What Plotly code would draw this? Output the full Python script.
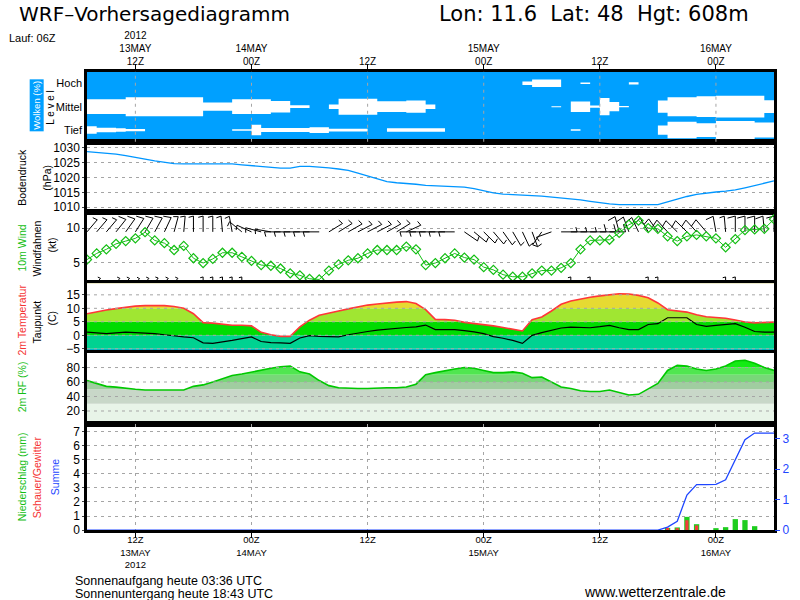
import math
import plotly.graph_objects as go

# ---------------- data (hours since 13 May 2012 00Z) ----------------
hours = list(range(7, 79))

pressure = [1028.6, 1028.4, 1028.1, 1027.8, 1027.3, 1026.8, 1026.1, 1025.5, 1025.0, 1024.6,
            1024.5, 1024.5, 1024.5, 1024.5, 1024.5, 1024.5, 1024.2, 1023.9, 1023.7, 1023.2,
            1023.1, 1023.1, 1023.7, 1023.7, 1023.5, 1023.2, 1022.8, 1022.3, 1021.4, 1020.5,
            1019.5, 1018.6, 1018.2, 1018.0, 1017.7, 1017.3, 1017.2, 1017.0, 1016.8, 1016.7,
            1016.2, 1015.5, 1014.8, 1014.4, 1014.3, 1014.1, 1013.9, 1013.7, 1013.4, 1013.2,
            1013.0, 1012.5, 1012.0, 1011.5, 1011.1, 1010.9, 1010.9, 1010.9, 1010.9, 1010.9,
            1011.8, 1012.8, 1013.6, 1014.3, 1014.8, 1015.1, 1015.4, 1015.8, 1016.5, 1017.2,
            1018.0, 1018.8]

wind_speed = [5.4, 6.3, 6.9, 7.7, 8.1, 8.5, 9.4, 8.2, 7.8, 6.8,
              7.4, 5.6, 4.9, 5.5, 6.4, 6.4, 5.8, 5.2, 4.6, 4.5,
              4.1, 3.4, 3.1, 2.6, 2.5, 3.8, 4.7, 5.3, 5.6, 6.3,
              6.8, 6.8, 6.8, 7.3, 6.9, 4.6, 4.9, 5.6, 6.3, 5.7,
              5.4, 4.3, 3.9, 3.2, 2.9, 2.9, 3.4, 3.8, 3.8, 4.2,
              4.9, 6.9, 8.2, 8.2, 8.3, 9.3, 10.5, 11.1, 10.0, 9.9,
              8.8, 8.1, 8.8, 9.0, 8.8, 8.5, 7.2, 8.4, 9.7, 9.8,
              9.9, 11.3]

wind_dir = [40, 40, 40, 38, 35, 32, 30, 28, 25, 15,
            5, 0, 0, 0, 355, 350, 310, 295, 285, 280,
            270, 270, 270, 270, 270, 58, 58, 60, 62, 62,
            62, 60, 58, 65, 270, 270, 270, 270, 270, 125,
            130, 135, 140, 145, 150, 155, 160, 215, 250, 90,
            90, 90, 90, 90, 90, 345, 340, 335, 330, 325,
            318, 315, 315, 318, 320, 350, 355, 0, 0, 0,
            355, 0]

low_wind_hours = [8, 10, 11, 12, 13, 14, 15, 16, 19, 20, 21, 22, 23, 57, 59, 65, 66, 73, 74]
low_wind_dir = [40, 40, 40, 45, 40, 35, 40, 40, 0, 0, 0, 0, 0, 0, 0, 0, 0, 0, 0]
low_wind_speed = [3, 3, 3, 3, 3, 3, 3, 3, 6, 6, 6, 6, 6, 3, 3, 6, 3, 5, 5]

temp = [8.0, 8.8, 9.4, 9.9, 10.4, 10.8, 11.0, 11.1, 11.0, 10.7,
        10.0, 8.0, 4.7, 4.5, 4.0, 3.7, 3.7, 3.5, 1.1, 0.2,
        -0.4, -0.4, 3.1, 5.6, 7.4, 8.3, 9.0, 9.8, 10.5, 11.2,
        11.6, 12.0, 12.3, 12.5, 11.8, 9.5, 5.9, 5.8, 5.6, 4.8,
        4.4, 4.1, 3.5, 2.9, 2.2, 1.6, 5.8, 6.8, 9.0, 11.5,
        12.7, 13.5, 14.1, 14.6, 15.0, 15.4, 15.3, 14.8, 13.9, 12.0,
        9.5, 9.0, 8.6, 7.6, 6.9, 6.6, 6.3, 5.7, 4.9, 4.6,
        4.7, 4.9]

dewpoint = [1.2, 0.9, 0.6, 0.9, 1.2, 1.0, 0.9, 0.6, 0.2, -0.3,
            -0.6, -0.9, -2.8, -3.0, -2.5, -1.9, -1.2, -0.6, -2.3, -2.7,
            -2.8, -3.0, -1.0, -0.1, -0.4, -0.5, -0.6, 0.2, 0.9, 1.4,
            1.9, 2.3, 2.7, 2.9, 3.1, 3.8, 2.1, 2.1, 2.1, 1.7,
            1.3, 0.6, -0.5, -1.1, -1.9, -3.0, 0.0, 1.0, 1.9, 2.7,
            3.0, 2.9, 2.8, 3.2, 3.7, 2.8, 2.1, 2.1, 4.0, 4.3,
            6.5, 6.5, 6.5, 4.0, 3.3, 3.7, 4.0, 4.3, 3.0, 1.4,
            1.2, 1.2]

rel_hum = [62, 58, 54, 53, 51, 50, 49, 49, 49, 49,
           49, 54, 56, 60, 64, 69, 71, 74, 76, 79,
           81, 82, 74, 71, 62, 55, 52, 51, 51, 51,
           52, 52, 52, 53, 57, 70, 73, 76, 78, 80,
           79, 76, 73, 73, 74, 72, 66, 67, 60, 53,
           51, 48, 47, 47, 49, 45, 42, 43, 50, 58,
           76, 83, 82, 78, 76, 78, 82, 89, 90, 86,
           80, 76]

cloud_low = [33, 20, 20, 15, 10, 10, 0, 0, 0, 0,
             0, 0, 0, 0, 0, 7, 7, 46, 17, 17,
             17, 17, 17, 25, 25, 12, 12, 12, 12, 0,
             0, 15, 15, 15, 15, 15, 15, 0, 0, 0,
             0, 0, 0, 0, 0, 0, 0, 0, 0, 0,
             7, 0, 0, 0, 0, 0, 0, 0, 0, 40,
             72, 72, 72, 60, 60, 80, 80, 80, 80, 65,
             65, 65]

cloud_mid = [65, 65, 65, 65, 83, 83, 83, 83, 83, 83,
             83, 83, 36, 36, 36, 65, 65, 65, 65, 50,
             50, 12, 12, 0, 0, 20, 70, 70, 70, 70,
             47, 47, 47, 54, 54, 20, 0, 0, 0, 0,
             0, 0, 0, 0, 0, 0, 0, 0, 4, 0,
             46, 46, 10, 75, 40, 5, 0, 0, 0, 54,
             83, 83, 83, 90, 90, 95, 95, 95, 95, 95,
             55, 50]

cloud_high = [0, 0, 0, 0, 0, 0, 0, 0, 0, 0,
              0, 0, 0, 0, 0, 0, 0, 0, 0, 0,
              0, 0, 0, 0, 0, 0, 0, 0, 0, 0,
              0, 0, 0, 0, 0, 0, 0, 0, 0, 0,
              0, 0, 0, 0, 0, 15, 33, 33, 33, 0,
              0, 7, 0, 0, 0, 0, 10, 0, 0, 0,
              0, 0, 0, 0, 0, 0, 0, 0, 0, 0,
              0, 0]

precip_hours = [67, 68, 69, 70, 72, 73, 74, 75, 76]
precip_total = [0.16, 0.19, 0.94, 0.42, 0.14, 0.21, 0.78, 0.71, 0.28]
precip_conv = [0.16, 0.14, 0.70, 0.33, 0.0, 0.0, 0.0, 0.0, 0.0]

precip_sum = [0, 0, 0, 0, 0, 0, 0, 0, 0, 0,
              0, 0, 0, 0, 0, 0, 0, 0, 0, 0,
              0, 0, 0, 0, 0, 0, 0, 0, 0, 0,
              0, 0, 0, 0, 0, 0, 0, 0, 0, 0,
              0, 0, 0, 0, 0, 0, 0, 0, 0, 0,
              0, 0, 0, 0, 0, 0, 0, 0, 0, 0,
              0.1, 0.29, 1.15, 1.49, 1.49, 1.5, 1.65, 2.3, 2.96, 3.18,
              3.18, 3.18]

time_ticks = [12, 24, 36, 48, 60, 72]
top_labels = ["2012<br>13MAY<br>12Z", "14MAY<br>00Z", "12Z", "15MAY<br>00Z", "12Z", "16MAY<br>00Z"]
bottom_labels = ["12Z<br>13MAY<br>2012", "00Z<br>14MAY", "12Z", "00Z<br>15MAY", "12Z", "00Z<br>16MAY"]
cloud_levels = [0.5, 1.5, 2.5]
cloud_level_names = ["Tief", "Mittel", "Hoch"]
p_ticks = [1010, 1015, 1020, 1025, 1030]
w_ticks = [5, 10]
t_ticks = [-5, 0, 5, 10, 15]
rh_ticks = [20, 40, 60, 80]
pr_ticks = [0, 1, 2, 3, 4, 5, 6, 7]
sum_ticks = [0, 1, 2, 3]

t_band_edges = [-10, -5, 0, 5, 10, 30]
t_band_colors = ["rgb(0,180,200)", "rgb(0,210,145)", "rgb(0,220,0)", "rgb(160,230,50)", "rgb(230,218,50)"]
rh_band_edges = [0, 30, 50, 60, 70, 80, 90, 100]
rh_band_colors = ["rgb(232,244,232)", "rgb(200,215,200)", "rgb(160,205,160)", "rgb(120,215,120)",
                  "rgb(80,230,80)", "rgb(20,235,20)", "rgb(0,255,0)"]

# ---------------- layout geometry ----------------
# positions below are in reference pixels (800 x 600); the page is drawn a bit taller
W, H_REF = 800, 600
H = 607
XD = [87 / W, 774 / W]
XR = [7, 78]


def dom(top, bot):
    return [1 - bot / H_REF, 1 - top / H_REF]


D_CLOUD = dom(70.7, 141)
D_PRES = dom(141, 211.7)
D_WIND = dom(211.7, 282.7)
D_TEMP = dom(282.7, 352.7)
D_RH = dom(352.7, 423.3)
D_PREC = dom(423.3, 530)

R_CLOUD = [0, 3]
R_PRES = [1008.3, 1031.9]
R_WIND = [1.95, 12.3]
R_TEMP = [-6.6, 19.3]
R_RH = [2.6, 99.9]
R_PREC = [0, 7.55]
R_SUM = [0, 3.49]

GRID = "rgb(165,165,165)"
GDASH = "3px,4px"
FONT = "Liberation Sans"

fig = go.Figure()


def sc(**kw):
    kw.setdefault("hoverinfo", "skip")
    kw.setdefault("showlegend", False)
    fig.add_trace(go.Scatter(**kw))


# ---------------- clouds ----------------
for c, cov in zip(cloud_levels, [cloud_low, cloud_mid, cloud_high]):
    lo = [c - v / 100 * 0.49 for v in cov]
    hi = [c + v / 100 * 0.49 for v in cov]
    sc(x=hours, y=lo, mode="lines", line=dict(width=0, shape="hv"), xaxis="x", yaxis="y")
    sc(x=hours, y=hi, mode="lines", line=dict(width=0, shape="hv"), fill="tonexty",
       fillcolor="white", xaxis="x", yaxis="y")

# ---------------- pressure ----------------
sc(x=hours, y=pressure, mode="lines", line=dict(color="rgb(0,150,255)", width=1.3), xaxis="x2", yaxis="y2")

# ---------------- wind barbs ----------------
px_per_h = (XD[1] - XD[0]) * W / (XR[1] - XR[0])
px_per_kt = (D_WIND[1] - D_WIND[0]) * H / (R_WIND[1] - R_WIND[0])


def barbs(hs, dirs, spds, base, staff, full_len, half_len):
    xs, ys = [], []
    a = math.radians(105)
    for h, d, s in zip(hs, dirs, spds):
        ux, uy = math.sin(math.radians(d)), math.cos(math.radians(d))
        xs += [h, h + staff * ux / px_per_h, None]
        ys += [base, base + staff * uy / px_per_kt, None]
        n5 = int(s / 5 + 0.5)
        nf, nh = n5 // 2, n5 % 2
        fx = ux * math.cos(a) - uy * math.sin(a)
        fy = ux * math.sin(a) + uy * math.cos(a)
        pos = staff
        for k in range(nf + nh):
            fl = full_len if k < nf else half_len
            sx, sy = pos * ux, pos * uy
            xs += [h + sx / px_per_h, h + (sx + fl * fx) / px_per_h, None]
            ys += [base + sy / px_per_kt, base + (sy + fl * fy) / px_per_kt, None]
            pos -= 3
    return xs, ys


bx, by = barbs(hours, wind_dir, wind_speed, 9.45, 16, 8, 5)
sc(x=bx, y=by, mode="lines", line=dict(color="black", width=1), xaxis="x3", yaxis="y3")
lx, ly = barbs(low_wind_hours, low_wind_dir, low_wind_speed, 2.0, 6, 4, 3)
sc(x=lx, y=ly, mode="lines", line=dict(color="black", width=1), xaxis="x3", yaxis="y3")
sc(x=hours, y=wind_speed, mode="lines+markers", line=dict(color="rgb(20,190,20)", width=1),
   marker=dict(symbol="diamond-open", size=7, color="rgb(20,190,20)", line=dict(width=1.2)),
   xaxis="x3", yaxis="y3")

# ---------------- temperature ----------------
sc(x=XR, y=[t_band_edges[0]] * 2, mode="lines", line=dict(width=0), xaxis="x4", yaxis="y4")
for e, col in zip(t_band_edges[1:], t_band_colors):
    sc(x=XR, y=[e] * 2, mode="lines", line=dict(width=0), fill="tonexty", fillcolor=col,
       xaxis="x4", yaxis="y4")
sc(x=XR, y=[t_band_edges[-1]] * 2, mode="lines", line=dict(width=0), xaxis="x4", yaxis="y4")
sc(x=hours, y=temp, mode="lines", line=dict(color="rgb(255,55,55)", width=1.6), fill="tonexty",
   fillcolor="white", xaxis="x4", yaxis="y4")
sc(x=hours, y=dewpoint, mode="lines", line=dict(color="black", width=1.2), xaxis="x4", yaxis="y4")

# ---------------- relative humidity ----------------
sc(x=XR, y=[rh_band_edges[0]] * 2, mode="lines", line=dict(width=0), xaxis="x5", yaxis="y5")
for e, col in zip(rh_band_edges[1:], rh_band_colors):
    sc(x=XR, y=[e] * 2, mode="lines", line=dict(width=0), fill="tonexty", fillcolor=col,
       xaxis="x5", yaxis="y5")
sc(x=XR, y=[rh_band_edges[-1]] * 2, mode="lines", line=dict(width=0), xaxis="x5", yaxis="y5")
sc(x=hours, y=rel_hum, mode="lines", line=dict(color="rgb(0,200,0)", width=1.6), fill="tonexty",
   fillcolor="white", xaxis="x5", yaxis="y5")

# ---------------- precipitation ----------------
fig.add_trace(go.Bar(x=precip_hours, y=precip_total, width=0.55, marker=dict(color="rgb(30,205,30)", line=dict(width=0)),
                     xaxis="x6", yaxis="y6", showlegend=False, hoverinfo="skip"))
fig.add_trace(go.Bar(x=precip_hours, y=precip_conv, width=0.33, marker=dict(color="rgb(245,60,60)", line=dict(width=0)),
                     xaxis="x6", yaxis="y6", showlegend=False, hoverinfo="skip"))
sc(x=hours, y=precip_sum, mode="lines", line=dict(color="rgb(30,70,255)", width=1.3), xaxis="x6", yaxis="y7")

# ---------------- axes ----------------
frame = dict(showline=True, mirror=True, linewidth=2.5, linecolor="black", zeroline=False,
             fixedrange=True)
xcommon = dict(range=XR, domain=XD, showgrid=False, tickvals=time_ticks, ticks="",
               showticklabels=False, **frame)
tickf = dict(family=FONT, size=12, color="black")

lay = dict(
    width=W, height=H, autosize=False, margin=dict(l=0, r=0, t=0, b=0),
    paper_bgcolor="white", plot_bgcolor="white", showlegend=False, barmode="overlay",
    font=dict(family=FONT, size=11, color="black"),
    xaxis=dict(xcommon, anchor="y", side="top", ticks="outside", ticklen=5, tickcolor="black",
               showticklabels=True, ticktext=top_labels, tickfont=dict(family=FONT, size=10),
               ticklabelstandoff=-5),
    xaxis2=dict(xcommon, anchor="y2"),
    xaxis3=dict(xcommon, anchor="y3"),
    xaxis4=dict(xcommon, anchor="y4"),
    xaxis5=dict(xcommon, anchor="y5"),
    xaxis6=dict(xcommon, anchor="y6", ticks="outside", ticklen=5, tickcolor="black",
                showticklabels=True, ticktext=bottom_labels, tickfont=dict(family=FONT, size=9.5),
                ticklabelstandoff=-6,
                showgrid=True, gridcolor=GRID, griddash=GDASH, gridwidth=1),
    yaxis=dict(domain=D_CLOUD, range=R_CLOUD, anchor="x", tickvals=cloud_levels,
               ticktext=cloud_level_names, ticks="", showgrid=False,
               tickfont=dict(family=FONT, size=11, color="black"), **frame),
    yaxis2=dict(domain=D_PRES, range=R_PRES, anchor="x2", tickvals=p_ticks, ticks="outside",
                ticklen=2, showgrid=True, gridcolor=GRID, griddash=GDASH, tickfont=tickf, **frame),
    yaxis3=dict(domain=D_WIND, range=R_WIND, anchor="x3", tickvals=w_ticks, ticks="outside",
                ticklen=2, showgrid=True, gridcolor=GRID, griddash=GDASH, tickfont=tickf, **frame),
    yaxis4=dict(domain=D_TEMP, range=R_TEMP, anchor="x4", tickvals=t_ticks, ticks="outside",
                ticklen=2, showgrid=False, tickfont=tickf, **frame),
    yaxis5=dict(domain=D_RH, range=R_RH, anchor="x5", tickvals=rh_ticks, ticks="outside",
                ticklen=2, showgrid=False, tickfont=tickf, **frame),
    yaxis6=dict(domain=D_PREC, range=R_PREC, anchor="x6", tickvals=pr_ticks, ticks="outside",
                ticklen=2, showgrid=True, gridcolor=GRID, griddash=GDASH, tickfont=tickf, **frame),
    yaxis7=dict(range=R_SUM, overlaying="y6", side="right", anchor="x6", tickvals=sum_ticks,
                ticks="outside", ticklen=5, tickcolor="rgb(30,70,255)", showgrid=False,
                showline=False, zeroline=False, fixedrange=True, showticklabels=True,
                tickfont=dict(family=FONT, size=12, color="rgb(30,70,255)")),
)
fig.update_layout(**lay)

# ---------------- shapes ----------------
shapes = [dict(type="rect", xref="x domain", yref="y domain", x0=0, x1=1, y0=0, y1=1,
               fillcolor="rgb(0,160,255)", line=dict(width=0), layer="below")]
for t in time_ticks:
    shapes.append(dict(type="line", xref="x", yref="y domain", x0=t, x1=t, y0=0, y1=1,
                       line=dict(color=GRID, width=1, dash=GDASH), layer="above"))
for v in t_ticks:
    shapes.append(dict(type="line", xref="x4 domain", yref="y4", x0=0, x1=1, y0=v, y1=v,
                       line=dict(color=GRID, width=1, dash=GDASH), layer="above"))
for v in rh_ticks:
    shapes.append(dict(type="line", xref="x5 domain", yref="y5", x0=0, x1=1, y0=v, y1=v,
                       line=dict(color=GRID, width=1, dash=GDASH), layer="above"))
fig.update_layout(shapes=shapes)

# ---------------- annotations ----------------
def ann(text, px, py, size=11, color="black", angle=0, xanchor="center", family=FONT, **kw):
    return dict(text=text, x=px / W, y=1 - py / H_REF, xref="paper", yref="paper", showarrow=False,
                textangle=angle, xanchor=xanchor, yanchor="middle",
                font=dict(family=family, size=size, color=color), **kw)


green = "rgb(20,190,20)"
red = "rgb(245,50,50)"
blue = "rgb(30,70,255)"
anns = [
    ann("WRF\u2013Vorhersagediagramm", 17, 13, size=20, xanchor="left", family="DejaVu Sans"),
    ann("Lon: 11.6  Lat: 48  Hgt: 608m", 437, 13, size=21, xanchor="left", family="DejaVu Sans"),
    ann("Lauf: 06Z", 7, 37, size=11, xanchor="left"),
    ann("Wolken (%)", 37, 105, size=9.5, color="white", angle=-90, bgcolor="rgb(0,160,255)", borderpad=1),
    ann("L e v e l", 51, 107, size=10, angle=-90),
    ann("Bodendruck", 22, 177, size=10.5, angle=-90),
    ann("(hPa)", 47, 177, size=10.5, angle=-90),
    ann("10m Wind", 22, 248, size=10.5, color=green, angle=-90),
    ann("Windfahnen", 37, 248, size=10.5, angle=-90),
    ann("(kt)", 52, 245, size=10.5, angle=-90),
    ann("2m Temperatur", 22, 320, size=10.5, color=red, angle=-90),
    ann("Taupunkt", 37, 322, size=10.5, angle=-90),
    ann("(C)", 52, 318, size=10.5, angle=-90),
    ann("2m RF (%)", 22, 387, size=10.5, color=green, angle=-90),
    ann("Niederschlag (mm)", 22, 477, size=10.5, color=green, angle=-90),
    ann("Schauer/Gewitter", 37, 477, size=10.5, color=red, angle=-90),
    ann("Summe", 55, 477, size=10.5, color=blue, angle=-90),
    ann("Sonnenaufgang heute 03:36 UTC", 73, 580.5, size=12.5, xanchor="left"),
    ann("Sonnenuntergang heute 18:43 UTC", 73, 593.5, size=12.5, xanchor="left"),
    ann("www.wetterzentrale.de", 583, 591.5, size=14, xanchor="left", borderpad=0),
]
fig.update_layout(annotations=anns)

post = ("document.documentElement.style.margin='0';document.documentElement.style.overflow='hidden';"
        "document.body.style.margin='0';document.body.style.overflow='hidden';"
        "var gd=document.getElementById('{plot_id}');gd.style.overflow='hidden';"
        "document.querySelectorAll('.svg-container').forEach(function(e){e.style.display='block';});")

fig.write_html("out.html", config={"displayModeBar": False}, post_script=post)
